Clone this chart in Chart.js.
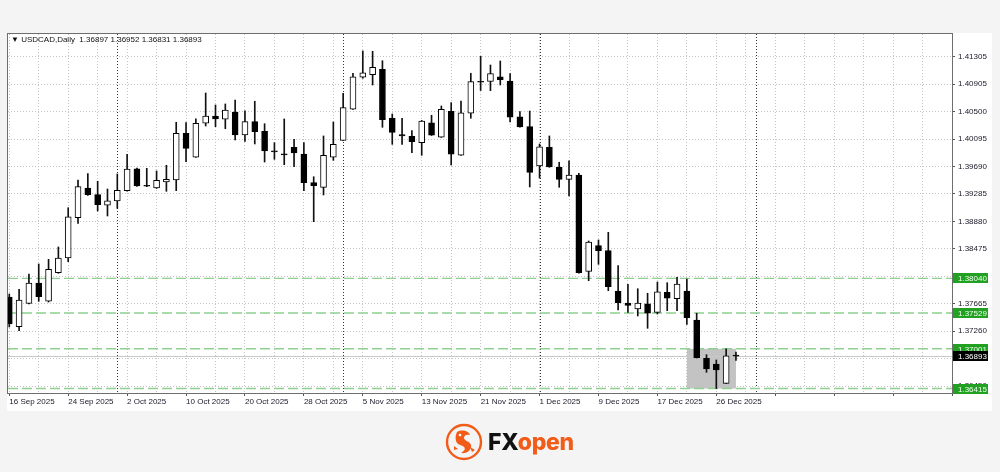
<!DOCTYPE html>
<html>
<head>
<meta charset="utf-8">
<script src="https://cdn.jsdelivr.net/npm/chart.js@4.4.1/dist/chart.umd.min.js"></script>
<style>
  html, body { margin: 0; padding: 0; width: 1000px; height: 472px; overflow: hidden; background: #f4f4f4; font-family: "Liberation Sans", Arial, sans-serif; }
  #panel { position: absolute; left: 7px; top: 33px; width: 985px; height: 378px; background: #fff; }
  #chart { position: absolute; left: 0; top: 0; }
  #title { position: absolute; left: 11px; top: 35px; font-size: 8px; line-height: 10px; color: #111; white-space: pre; }
  #logo { position: absolute; left: 445px; top: 423px; height: 38px; display: flex; align-items: center; }
  #logo .txt { font-family: Inter, "Open Sans", sans-serif; font-weight: 800; font-size: 23px; margin-left: 5px; letter-spacing: -0.3px; }
  #logo .fx { color: #111; }
  #logo .op { color: #f25c19; }
</style>
</head>
<body>
<div id="panel"></div>
<canvas id="chart" width="1000" height="472"></canvas>
<div id="title">▼ USDCAD,Daily  1.36897 1.36952 1.36831 1.36893</div>
<div id="logo">
  <svg width="38" height="38" viewBox="0 0 38 38">
    <circle cx="19" cy="19" r="17" fill="none" stroke="#f25c19" stroke-width="2.4"/>
    <path d="M12 9 C17 6 24 8 25 12 C22 11 19 12 19 15 C19 18 25 18 26 22 C27 27 22 31 16 30 C19 28 21 26 19 24 C17 22 12 22 11 18 C10 14 11 11 12 9 Z" fill="#f25c19"/>
    <circle cx="15" cy="12" r="1.3" fill="#fff"/>
    <path d="M25 24 L30 27 L27 29 Z M9 23 L13 26 L9 27 Z" fill="#f25c19"/>
  </svg>
  <span class="txt"><span class="fx">FX</span><span class="op">open</span></span>
</div>
<script>
// daily candles, 16 Sep 2025 .. 30 Dec 2025
const opens = [1.37765,1.37327,1.37672,1.37972,1.37702,1.38123,1.38340,1.38935,1.39373,1.39274,
  1.39118,1.39181,1.39333,1.39657,1.39413,1.39373,1.39461,1.39491,1.40180,1.39826,
  1.40327,1.40435,1.40386,1.40494,1.40155,1.40351,1.40209,1.39919,1.39874,1.39973,
  1.39874,1.39451,1.39383,1.39826,1.40076,1.40534,1.41006,1.41044,1.41124,1.40401,
  1.40159,1.40135,1.40041,1.40332,1.40121,1.40504,1.39855,1.40475,1.40947,1.40944,
  1.41014,1.40951,1.40424,1.40277,1.39697,1.39973,1.39678,1.39501,1.39565,1.38144,
  1.38522,1.38448,1.37854,1.37677,1.37588,1.37666,1.37539,1.37834,1.37740,1.37854,
  1.37426,1.36861,1.36777,1.36492,1.36897];
const highs = [1.37809,1.37879,1.38104,1.38252,1.38321,1.38503,1.39082,1.39491,1.39584,1.39472,
  1.39358,1.39579,1.39870,1.39668,1.39663,1.39624,1.39708,1.40342,1.40336,1.40391,
  1.40774,1.40597,1.40612,1.40671,1.40509,1.40652,1.40321,1.40041,1.40391,1.40091,
  1.40041,1.39539,1.40140,1.40346,1.40770,1.41065,1.41394,1.41389,1.41250,1.40464,
  1.40401,1.40218,1.40370,1.40445,1.40582,1.40631,1.40656,1.41065,1.41315,1.41187,
  1.41246,1.41059,1.40498,1.40508,1.40022,1.40140,1.39752,1.39775,1.39590,1.38591,
  1.38606,1.38719,1.38227,1.37952,1.37887,1.37820,1.37986,1.37976,1.38056,1.38031,
  1.37525,1.36914,1.36836,1.37001,1.36952];
const lows = [1.37323,1.37268,1.37662,1.37702,1.37691,1.38115,1.38286,1.38852,1.39265,1.39034,
  1.38960,1.39073,1.39325,1.39395,1.39392,1.39365,1.39324,1.39333,1.39761,1.39823,
  1.40287,1.40277,1.40247,1.40081,1.40059,1.40022,1.39756,1.39796,1.39716,1.39687,
  1.39333,1.38876,1.39270,1.39781,1.40073,1.40531,1.40991,1.40892,1.40268,1.40017,
  1.40017,1.39893,1.39855,1.40147,1.40118,1.39712,1.39852,1.40401,1.40811,1.40808,
  1.40892,1.40346,1.40268,1.39388,1.39520,1.39678,1.39383,1.39255,1.38115,1.38005,
  1.38247,1.37858,1.37573,1.37539,1.37485,1.37303,1.37514,1.37563,1.37563,1.37362,
  1.36865,1.36654,1.36415,1.36490,1.36831];
const closes = [1.37367,1.37721,1.37972,1.37769,1.38174,1.38340,1.38949,1.39392,1.39274,1.39126,
  1.39185,1.39339,1.39653,1.39402,1.39398,1.39486,1.39501,1.40180,1.39958,1.40327,
  1.40435,1.40391,1.40523,1.40155,1.40351,1.40203,1.39919,1.39904,1.39860,1.39889,
  1.39451,1.39407,1.39855,1.40017,1.40557,1.41014,1.41073,1.41153,1.40380,1.40194,
  1.40140,1.40056,1.40361,1.40150,1.40534,1.39870,1.40483,1.40941,1.40932,1.41059,
  1.40970,1.40416,1.40273,1.39604,1.39978,1.39683,1.39501,1.39565,1.38123,1.38576,
  1.38448,1.37917,1.37681,1.37640,1.37677,1.37525,1.37843,1.37746,1.37957,1.37460,
  1.36870,1.36703,1.36688,1.36897,1.36893];

// date labels, one every 6 bars
const dateLabels = ['16 Sep 2025','24 Sep 2025','2 Oct 2025','10 Oct 2025','20 Oct 2025','28 Oct 2025',
  '5 Nov 2025','13 Nov 2025','21 Nov 2025','1 Dec 2025','9 Dec 2025','17 Dec 2025','26 Dec 2025'];
// bar index of first day of each month (period separators)
const monthStarts = [11, 34, 54, 76];
const priceTicks = [1.36450,1.36855,1.37260,1.37665,1.38070,1.38475,1.38880,1.39285,1.39690,1.40095,1.40500,1.40905,1.41305];
const levels = [1.38040, 1.37529, 1.37001, 1.36415];
const zoneBars = [69, 74];
const zonePrices = [1.36415, 1.37001];
const lastPrice = 1.36893;

const bodies = opens.map((o, i) => ({ x: i, y: [o, closes[i]] }));
const wicks = lows.map((l, i) => ({ x: i, y: [l, highs[i]] }));
const bodyColors = opens.map((o, i) => closes[i] >= o ? '#ffffff' : '#000000');

const overlay = {
  id: 'overlay',
  beforeDatasetsDraw(chart) {
    const { ctx, chartArea: a, scales: { x, y } } = chart;
    ctx.save();
    ctx.beginPath();
    ctx.rect(a.left, a.top, a.right - a.left, a.bottom - a.top);
    ctx.clip();
    // month separators
    ctx.strokeStyle = '#333';
    ctx.lineWidth = 1;
    ctx.setLineDash([1, 2]);
    monthStarts.forEach(i => {
      const px = Math.round(x.getPixelForValue(i)) + 0.5;
      ctx.beginPath(); ctx.moveTo(px, a.top); ctx.lineTo(px, a.bottom); ctx.stroke();
    });
    ctx.setLineDash([]);
    // grey zone
    const x0 = x.getPixelForValue(zoneBars[0]), x1 = x.getPixelForValue(zoneBars[1]);
    const y0 = y.getPixelForValue(zonePrices[1]), y1 = y.getPixelForValue(zonePrices[0]);
    ctx.fillStyle = '#c3c3c3';
    ctx.fillRect(x0, y0, x1 - x0, y1 - y0);
    // bid line
    const py = Math.round(y.getPixelForValue(lastPrice)) + 0.5;
    ctx.strokeStyle = '#c9c9c9';
    ctx.beginPath(); ctx.moveTo(a.left, py); ctx.lineTo(a.right, py); ctx.stroke();
    // green levels
    ctx.strokeStyle = '#8fcf8f';
    ctx.lineWidth = 1.4;
    ctx.setLineDash([10, 4]);
    levels.forEach(v => {
      const ly = y.getPixelForValue(v);
      ctx.beginPath(); ctx.moveTo(a.left, ly); ctx.lineTo(a.right, ly); ctx.stroke();
    });
    ctx.restore();
  },
  afterDraw(chart) {
    const { ctx, chartArea: a, scales: { y } } = chart;
    ctx.save();
    // frame
    ctx.strokeStyle = '#6e6e6e';
    ctx.lineWidth = 1;
    ctx.strokeRect(7.5, 33.5, Math.round(a.right) - 7, Math.round(a.bottom) - 33);
    // price labels
    ctx.font = '8px "Liberation Sans", Arial, sans-serif';
    ctx.textBaseline = 'middle';
    const box = (v, bg, fg) => {
      const cy = Math.round(y.getPixelForValue(v));
      ctx.fillStyle = bg;
      ctx.fillRect(a.right + 1, cy - 5, 35, 10);
      ctx.fillStyle = fg;
      ctx.fillText(v.toFixed(5), a.right + 6, cy + 0.5);
    };
    levels.forEach(v => box(v, '#22a022', '#f0fff0'));
    box(lastPrice, '#000000', '#ffffff');
    ctx.restore();
  }
};

new Chart(document.getElementById('chart'), {
  type: 'bar',
  data: {
    datasets: [
      { data: bodies, backgroundColor: bodyColors, borderColor: '#000', borderWidth: 1, borderSkipped: false,
        barThickness: 6, minBarLength: 1, grouped: false, order: 1 },
      { data: wicks, backgroundColor: '#111', borderWidth: 0, barThickness: 1, grouped: false, order: 2 }
    ]
  },
  options: {
    responsive: false,
    animation: false,
    layout: { padding: { left: 8, top: 34, right: 8, bottom: 62 } },
    plugins: { legend: { display: false }, tooltip: { enabled: false } },
    scales: {
      x: {
        type: 'linear', min: -0.13, max: 96, offset: false,
        grid: { offset: false, color: '#c4c4c4', tickLength: 3,
          tickColor: c => (c.tick && c.tick.value % 6 === 0 ? '#555' : 'rgba(0,0,0,0)') },
        border: { display: false, dash: [1, 2] },
        ticks: {
          autoSkip: false, maxRotation: 0, align: 'start', padding: 1,
          font: { family: '"Liberation Sans", Arial, sans-serif', size: 8 }, color: '#1a1a2a',
          callback: v => (v % 6 === 0 && dateLabels[v / 6]) ? dateLabels[v / 6] : ''
        },
        afterBuildTicks: s => {
          const t = [];
          for (let v = 0; v <= 96; v += 3) t.push({ value: v });
          s.ticks = t;
        },
        afterFit: s => { s.height = 17; }
      },
      y: {
        type: 'linear', position: 'right', min: 1.36349, max: 1.41644, beginAtZero: false,
        grid: { color: '#c4c4c4', tickLength: 3, tickColor: '#555' },
        border: { display: false, dash: [1, 2] },
        ticks: {
          autoSkip: false, padding: 3,
          font: { family: '"Liberation Sans", Arial, sans-serif', size: 8 }, color: '#1a1a2a',
          callback: v => v.toFixed(5)
        },
        afterBuildTicks: s => { s.ticks = priceTicks.map(v => ({ value: v })); },
        afterFit: s => { s.width = 40; }
      }
    }
  },
  plugins: [overlay]
});
</script>
</body>
</html>
